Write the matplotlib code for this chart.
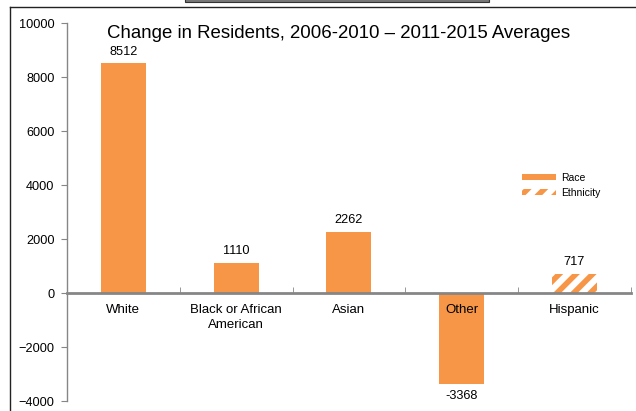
import matplotlib.pyplot as plt
from matplotlib.patches import Patch, Rectangle
from matplotlib.lines import Line2D

plt.rcParams['font.family'] = ['Liberation Sans', 'DejaVu Sans']
plt.rcParams['hatch.linewidth'] = 4

categories = ['White', 'Black or African\nAmerican', 'Asian', 'Other', 'Hispanic']
changes = [8512, 1110, 2262, -3368, 717]
is_ethnicity = [False, False, False, False, True]

orange = '#F79646'
grey = '#868686'

fig = plt.figure(figsize=(6.36, 4.11), dpi=100)
ax = fig.add_axes([0.1053, 0.0243, 0.8867, 0.9197])

x = range(len(categories))
for xi, val, eth in zip(x, changes, is_ethnicity):
    if eth:
        ax.bar(xi, val, width=0.4, color='white', edgecolor=orange,
               hatch='//', linewidth=0)
    else:
        ax.bar(xi, val, width=0.4, color=orange, linewidth=0)
    if val >= 0:
        ax.annotate(str(val), (xi, val), xytext=(0, 4), textcoords='offset points',
                    ha='center', va='bottom', fontsize=9.2)
    else:
        ax.annotate(str(val), (xi, val), xytext=(0, -4), textcoords='offset points',
                    ha='center', va='top', fontsize=9.2)

ax.set_xlim(-0.5, len(categories) - 0.5)
ax.set_ylim(-4000, 10000)
ax.set_yticks(range(-4000, 10001, 2000))

# category axis sits on the zero line
for s in ['top', 'right']:
    ax.spines[s].set_visible(False)
ax.spines['bottom'].set_position(('data', 0))
ax.spines['bottom'].set_color(grey)
ax.spines['bottom'].set_linewidth(2)
ax.spines['left'].set_color(grey)
ax.spines['left'].set_linewidth(1)

ax.set_xticks(list(x))
ax.set_xticklabels(categories, fontsize=9.5, va='top', linespacing=1.35)
ax.set_xticks([i + 0.5 for i in range(len(categories))], minor=True)
ax.tick_params(axis='x', which='major', length=0, pad=8)
ax.tick_params(axis='x', which='minor', length=4, color=grey, direction='in')
ax.tick_params(axis='y', labelsize=9.2, length=4, color=grey, pad=5)

ax.text(0.482, 0.972, 'Change in Residents, 2006-2010 \u2013 2011-2015 Averages',
        transform=ax.transAxes, ha='center', va='center', fontsize=13.4)

handles = [Patch(facecolor=orange, linewidth=0, label='Race'),
           Patch(facecolor='white', edgecolor=orange, hatch='//', linewidth=0,
                 label='Ethnicity')]
ax.legend(handles=handles, loc='upper left', bbox_to_anchor=(0.79, 0.628),
          frameon=False, fontsize=7.5, handlelength=3.3, handleheight=0.45,
          handletextpad=0.45, labelspacing=0.45)

# outer frame and header strip
fig.add_artist(Line2D([10 / 636, 1], [1 - 7.5 / 411] * 2, color='#222222', lw=1))
fig.add_artist(Line2D([10 / 636] * 2, [0, 1 - 7.5 / 411], color='#222222', lw=1))
fig.add_artist(Rectangle((185 / 636, 1 - 2.5 / 411), 304 / 636, 5 / 411,
                         facecolor='#777777', edgecolor='#333333', lw=0.8))

fig.savefig('out.png', dpi=100)
